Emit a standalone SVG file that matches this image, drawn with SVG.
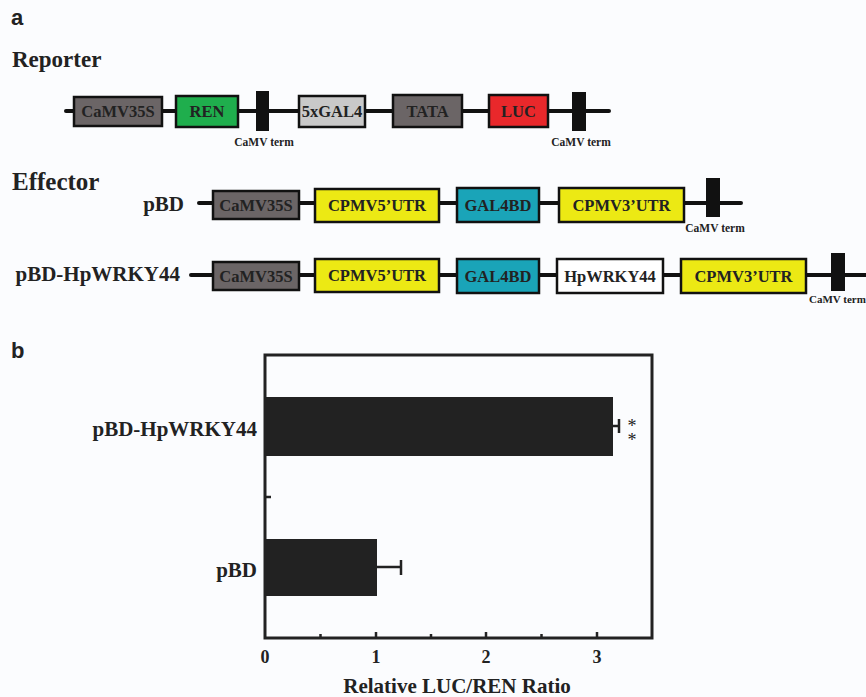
<svg xmlns="http://www.w3.org/2000/svg" width="866" height="697" viewBox="0 0 866 697">
<style>
.bg{fill:#fbfcfe}
.t{font-family:"Liberation Serif","Times New Roman",serif;font-weight:bold;fill:#222}
.lbl{font-size:16.5px;text-anchor:middle}
.term{font-size:11.5px;text-anchor:middle}
.hd{font-size:23px}
.row{font-size:21px;text-anchor:end}
.pl{font-family:"Liberation Sans",Arial,sans-serif;font-weight:bold;font-size:22px;fill:#222}
.star{font-family:"Liberation Serif","Times New Roman",serif;font-size:18px;fill:#222;text-anchor:middle}
.bone{stroke:#111;stroke-width:4;stroke-linecap:round;fill:none}
.box{stroke:#111;stroke-width:2.5}
.bar{fill:#111}
.gray{fill:#6b6566}
.green{fill:#1fae4d}
.lgray{fill:#c9c9c9}
.red{fill:#e9282b}
.yel{fill:#ece914}
.teal{fill:#1aa4b8}
.white{fill:#ffffff}
.ax{stroke:#222;stroke-width:3;fill:none}
.tk{stroke:#222;stroke-width:2.5}
.hbar{fill:#222}
.eb{stroke:#222;stroke-width:2.5;fill:none}
</style>
<rect class="bg" x="0" y="0" width="866" height="697"/>

<text class="pl" x="11" y="25">a</text>
<text class="t hd" x="12" y="67">Reporter</text>
<text class="t hd" x="12" y="190" style="font-size:25px">Effector</text>

<!-- connectors / backbones -->
<g id="connectors">
  <line class="bone" x1="66" y1="111" x2="609" y2="111"/>
  <line class="bone" x1="199" y1="203" x2="741" y2="203"/>
  <line class="bone" x1="191" y1="275" x2="866" y2="275"/>
</g>

<!-- Reporter -->
<g id="rep-camv35s"><rect class="box gray" x="74" y="97" width="88" height="29"/><text class="t lbl" x="118" y="117">CaMV35S</text></g>
<g id="rep-ren"><rect class="box green" x="176" y="96" width="62" height="31"/><text class="t lbl" x="207" y="117">REN</text></g>
<g id="rep-term1"><rect class="bar" x="256" y="91" width="13" height="40"/><text class="t term" x="264" y="146">CaMV term</text></g>
<g id="rep-5xgal4"><rect class="box lgray" x="299" y="96" width="66" height="31"/><text class="t lbl" x="332" y="117">5xGAL4</text></g>
<g id="rep-tata"><rect class="box gray" x="393" y="95" width="69" height="32"/><text class="t lbl" x="427.5" y="117">TATA</text></g>
<g id="rep-luc"><rect class="box red" x="489" y="95" width="59" height="32"/><text class="t lbl" x="518.5" y="117">LUC</text></g>
<g id="rep-term2"><rect class="bar" x="572" y="92" width="14" height="39"/><text class="t term" x="581" y="146">CaMV term</text></g>

<!-- Effector pBD -->
<text class="t row" x="184" y="211">pBD</text>
<g id="pbd-camv35s"><rect class="box gray" x="213" y="191" width="86" height="28"/><text class="t lbl" x="256" y="211">CaMV35S</text></g>
<g id="pbd-cpmv5"><rect class="box yel" x="315" y="189" width="124" height="33"/><text class="t lbl" x="377" y="211">CPMV5’UTR</text></g>
<g id="pbd-gal4bd"><rect class="box teal" x="457" y="188" width="82" height="34"/><text class="t lbl" x="498" y="211">GAL4BD</text></g>
<g id="pbd-cpmv3"><rect class="box yel" x="559" y="188" width="125" height="34"/><text class="t lbl" x="621.5" y="211">CPMV3’UTR</text></g>
<g id="pbd-term"><rect class="bar" x="706" y="178" width="14" height="39"/><text class="t term" x="715" y="232">CaMV term</text></g>

<!-- Effector pBD-HpWRKY44 -->
<text class="t row" x="180" y="281">pBD-HpWRKY44</text>
<g id="hp-camv35s"><rect class="box gray" x="213" y="262" width="86" height="28"/><text class="t lbl" x="256" y="282">CaMV35S</text></g>
<g id="hp-cpmv5"><rect class="box yel" x="315" y="259" width="124" height="33"/><text class="t lbl" x="377" y="281">CPMV5’UTR</text></g>
<g id="hp-gal4bd"><rect class="box teal" x="457" y="259" width="82" height="34"/><text class="t lbl" x="498" y="282">GAL4BD</text></g>
<g id="hp-hpwrky44"><rect class="box white" x="557" y="259" width="106" height="34"/><text class="t lbl" x="610" y="282">HpWRKY44</text></g>
<g id="hp-cpmv3"><rect class="box yel" x="681" y="259" width="125" height="34"/><text class="t lbl" x="743.5" y="282">CPMV3’UTR</text></g>
<g id="hp-term"><rect class="bar" x="831" y="253" width="14" height="38"/><text class="t" x="809" y="303" style="font-size:11px">CaMV term</text></g>

<!-- Panel b -->
<text class="pl" x="11" y="358">b</text>
<g id="chart">
  <rect class="ax" x="265" y="355" width="387" height="283"/>
  <line class="tk" x1="320.5" y1="638" x2="320.5" y2="634"/>
  <line class="tk" x1="376" y1="638" x2="376" y2="632"/>
  <line class="tk" x1="431" y1="638" x2="431" y2="634"/>
  <line class="tk" x1="486" y1="638" x2="486" y2="632"/>
  <line class="tk" x1="541.5" y1="638" x2="541.5" y2="634"/>
  <line class="tk" x1="597" y1="638" x2="597" y2="632"/>
  <line class="tk" x1="265" y1="497" x2="271" y2="497"/>
  <text class="t" x="265" y="663" style="font-size:18px;text-anchor:middle">0</text>
  <text class="t" x="376" y="663" style="font-size:18px;text-anchor:middle">1</text>
  <text class="t" x="486" y="663" style="font-size:18px;text-anchor:middle">2</text>
  <text class="t" x="597" y="663" style="font-size:18px;text-anchor:middle">3</text>
  <text class="t" x="457" y="693" style="font-size:21px;text-anchor:middle">Relative LUC/REN Ratio</text>
  <text class="t row" x="257" y="436">pBD-HpWRKY44</text>
  <text class="t row" x="257" y="577">pBD</text>
</g>
<g id="bar-hp">
  <rect class="hbar" x="265" y="397" width="348" height="59"/>
  <line class="eb" x1="613" y1="426" x2="619" y2="426"/>
  <line class="eb" x1="619" y1="419" x2="619" y2="433"/>
  <text class="star" x="632" y="432">*<tspan x="632" dy="14">*</tspan></text>
</g>
<g id="bar-pbd">
  <rect class="hbar" x="265" y="539" width="112" height="57"/>
  <line class="eb" x1="377" y1="567" x2="401" y2="567"/>
  <line class="eb" x1="401" y1="560" x2="401" y2="575"/>
</g>
</svg>
